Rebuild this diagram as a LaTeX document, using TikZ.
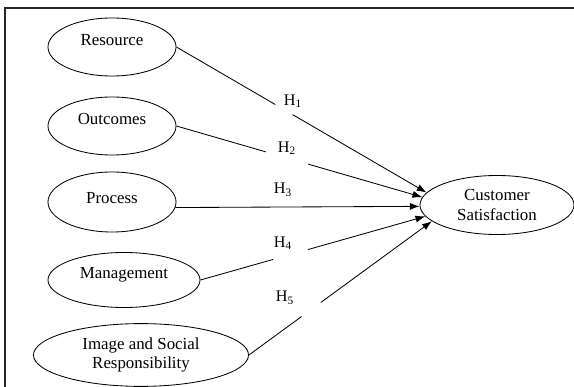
\documentclass[tikz,border=0pt]{standalone}
\usepackage{fontspec}
\setmainfont{Liberation Serif}
\usetikzlibrary{shapes,arrows.meta}

\begin{document}
\begin{tikzpicture}[x=0.025cm, y=-0.025cm,
        var/.style={ellipse,draw,line width=0.6pt,align=center,font=\fontsize{12}{14}\selectfont},
        hyp/.style={inner sep=1pt,font=\fontsize{11.5}{13}\selectfont},
        brk/.style={circle,fill=white,inner sep=0pt,minimum size=#1},
        link/.style={-{Latex[length=7pt,width=5pt]},line width=0.6pt}]
        \useasboundingbox (0,0) rectangle (574,387);
        \draw [line width=1.2pt, black!85] (5,387) -- (5,8) -- (574,8);
        \coordinate (r) at (112,47);
        \coordinate (o) at (112,126);
        \coordinate (p) at (112,202);
        \coordinate (m) at (124,280);
        \coordinate (i) at (141,355);
        \coordinate (c) at (497,205);
        \draw (r) node [var,name=res,text depth=10pt,minimum width=3.2cm,minimum height=1.45cm] {Resource};
        \draw (o) node [var,name=out,text depth=10pt,minimum width=3.2cm,minimum height=1.45cm] {Outcomes};
        \draw (p) node [var,name=pro,text depth=6pt,minimum width=3.2cm,minimum height=1.5cm] {Process};
        \draw (m) node [var,name=man,text depth=10pt,minimum width=3.8cm,minimum height=1.375cm] {Management};
        \draw (i) node [var,name=img,minimum width=5.375cm,minimum height=1.5cm] {Image and Social\\Responsibility};
        \draw (c) node [var,name=cs,minimum width=3.85cm,minimum height=1.475cm] {Customer\\Satisfaction};
        \draw [link] (res.east) -- (cs.170) node [brk=0.5cm, pos=0.43] {};
        \draw [link] (out.east) -- (cs.174) node [brk=1.1cm, pos=0.45] {};
        \draw [link] (pro.-5) -- (cs.181);
        \draw [link] (man.east) -- (cs.189) node [brk=0.9cm, pos=0.40] {};
        \draw [link] (img.east) -- (cs.194) node [brk=0.6cm, pos=0.34] {};
        \node [hyp] (h1) at (293,101) {H\textsubscript{1}};
        \node [hyp] (h2) at (287,148) {H\textsubscript{2}};
        \node [hyp] (h3) at (283,190) {H\textsubscript{3}};
        \node [hyp] (h4) at (283,243) {H\textsubscript{4}};
        \node [hyp] (h5) at (285,298) {H\textsubscript{5}};
    \end{tikzpicture}
\end{document}
